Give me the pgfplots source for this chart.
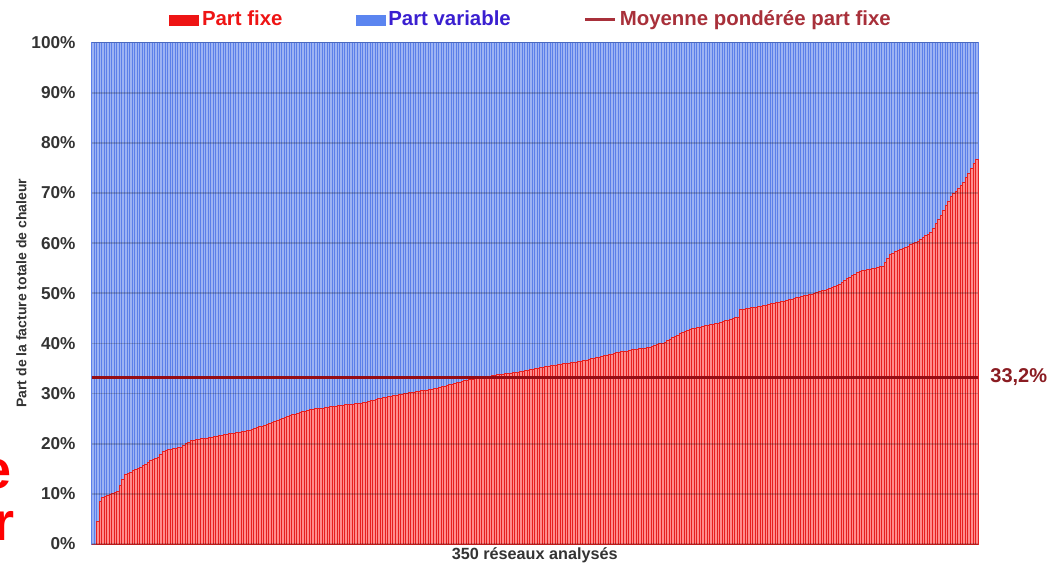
\documentclass[border=0pt]{standalone}
\usepackage{pgfplots}
\pgfplotsset{compat=1.18}
\usepackage{pgfplotstable}
\usepackage{fontspec}
\setmainfont{Liberation Sans}
\definecolor{barblueL}{HTML}{9DB3F3}
\definecolor{barblueD}{HTML}{5B7FE9}
\definecolor{barredL}{HTML}{FF8C8C}
\definecolor{barredD}{HTML}{E62020}
\definecolor{meanred}{HTML}{960C14}
\definecolor{legred}{HTML}{EE1414}
\definecolor{legrect}{HTML}{5B85F0}
\definecolor{legblue}{HTML}{3A1FD0}
\definecolor{legmean}{HTML}{A8303A}
\definecolor{labgray}{HTML}{333333}
\definecolor{lab332}{HTML}{8A1C22}

\pgfplotstableread[row sep=\\]{
f\\
0\\ 0\\ 4.5\\ 8.5\\ 9.3\\
9.5\\ 9.7\\ 9.9\\ 10.1\\ 10.3\\ 10.5\\
11.6\\ 12.9\\ 13.8\\ 14.1\\ 14.3\\
14.6\\ 14.9\\ 15.1\\ 15.3\\
15.6\\ 15.9\\ 16.2\\ 16.6\\ 16.9\\
17.1\\ 17.3\\
17.9\\ 18.5\\
18.6\\ 18.8\\ 18.9\\
19.0\\ 19.1\\ 19.2\\ 19.3\\
19.6\\ 20.0\\ 20.3\\ 20.6\\
20.7\\ 20.8\\ 20.9\\ 21.0\\ 21.0\\ 21.1\\ 21.2\\ 21.3\\ 21.4\\ 21.5\\
21.6\\ 21.7\\ 21.8\\ 21.9\\ 22.0\\ 22.0\\ 22.1\\ 22.2\\ 22.3\\ 22.4\\ 22.5\\ 22.6\\ 22.7\\
22.9\\ 23.0\\ 23.2\\ 23.4\\ 23.5\\ 23.7\\ 23.9\\
24.1\\ 24.3\\ 24.5\\ 24.7\\ 24.8\\ 25.0\\ 25.2\\ 25.4\\ 25.6\\
25.8\\ 25.9\\ 26.1\\ 26.2\\ 26.4\\ 26.5\\ 26.7\\ 26.8\\
26.9\\ 27.0\\ 27.0\\ 27.1\\ 27.1\\ 27.2\\ 27.3\\ 27.4\\ 27.4\\ 27.5\\ 27.6\\
27.7\\ 27.7\\ 27.8\\ 27.8\\ 27.9\\ 27.9\\ 28.0\\ 28.1\\ 28.1\\ 28.2\\
28.3\\ 28.5\\ 28.6\\ 28.7\\ 28.8\\ 29.0\\ 29.1\\ 29.2\\
29.3\\ 29.4\\ 29.5\\ 29.6\\ 29.7\\ 29.8\\ 29.9\\
30.0\\ 30.1\\ 30.2\\ 30.2\\ 30.3\\ 30.4\\ 30.5\\ 30.6\\ 30.7\\ 30.7\\ 30.8\\ 30.9\\ 31.0\\
31.1\\ 31.3\\ 31.4\\ 31.5\\ 31.7\\ 31.8\\ 31.9\\ 32.0\\ 32.2\\ 32.3\\
32.4\\ 32.6\\ 32.7\\ 32.8\\ 32.9\\ 33.1\\ 33.2\\
33.3\\ 33.3\\ 33.4\\ 33.5\\ 33.5\\ 33.6\\ 33.7\\ 33.8\\ 33.8\\ 33.9\\ 34.0\\ 34.0\\ 34.1\\ 34.2\\ 34.2\\ 34.3\\
34.4\\ 34.5\\ 34.6\\ 34.7\\ 34.8\\ 34.9\\ 35.0\\ 35.1\\ 35.2\\ 35.3\\ 35.4\\ 35.5\\
35.6\\ 35.7\\ 35.7\\ 35.8\\ 35.9\\ 36.0\\ 36.0\\ 36.1\\ 36.2\\ 36.3\\ 36.3\\ 36.4\\ 36.5\\
36.6\\ 36.7\\ 36.8\\ 37.0\\ 37.1\\ 37.2\\ 37.3\\
37.4\\ 37.6\\ 37.7\\ 37.8\\ 37.9\\ 38.1\\ 38.2\\
38.3\\ 38.4\\ 38.4\\ 38.5\\ 38.6\\ 38.7\\ 38.7\\ 38.8\\ 38.9\\ 39.0\\ 39.0\\ 39.1\\ 39.2\\
39.4\\ 39.5\\ 39.7\\ 39.9\\ 40.0\\ 40.2\\
40.5\\ 40.8\\ 41.1\\ 41.4\\
41.6\\ 41.9\\ 42.1\\ 42.3\\ 42.6\\ 42.8\\
42.9\\ 43.0\\ 43.1\\ 43.2\\ 43.3\\ 43.5\\ 43.6\\ 43.7\\ 43.8\\ 43.9\\ 44.0\\
44.2\\ 44.3\\ 44.5\\ 44.6\\ 44.8\\ 44.9\\ 45.1\\ 45.2\\
46.7\\
46.8\\ 46.9\\ 47.0\\ 47.1\\ 47.1\\ 47.2\\ 47.3\\ 47.4\\ 47.5\\
47.6\\ 47.7\\ 47.9\\ 48.0\\ 48.1\\ 48.2\\ 48.3\\ 48.4\\ 48.6\\ 48.7\\ 48.8\\
48.9\\ 49.1\\ 49.2\\ 49.3\\ 49.5\\ 49.6\\ 49.7\\ 49.8\\ 50.0\\ 50.1\\
50.3\\ 50.5\\ 50.6\\ 50.8\\ 51.0\\ 51.2\\ 51.3\\ 51.5\\
51.8\\ 52.2\\ 52.5\\ 52.9\\ 53.2\\
53.5\\ 53.8\\ 54.1\\ 54.4\\
54.5\\ 54.6\\ 54.7\\ 54.8\\ 54.9\\ 55.0\\ 55.1\\ 55.3\\ 55.4\\
56.2\\ 57.0\\ 57.8\\
58.0\\ 58.3\\ 58.5\\ 58.7\\ 59.0\\ 59.2\\ 59.4\\ 59.7\\ 59.9\\ 60.2\\ 60.4\\
60.8\\ 61.1\\ 61.5\\ 61.8\\ 62.2\\
63.0\\ 63.9\\ 64.7\\
65.6\\ 66.5\\ 67.5\\ 68.4\\ 69.3\\
69.9\\ 70.4\\ 71.0\\ 71.5\\ 72.1\\
73.0\\ 73.9\\ 74.9\\ 75.8\\ 76.7\\
}\fixtable
\pgfplotstablecreatecol[expr={\pgfplotstablerow}]{i}{\fixtable}
\pgfplotstablecreatecol[expr={100}]{t}{\fixtable}

\begin{document}
\begin{tikzpicture}
\useasboundingbox (0,0) rectangle (525.5pt,281.5pt);
\begin{axis}[
  at={(45.75pt,9.5pt)}, anchor=south west,
  scale only axis, width=443.25pt, height=250.75pt,
  xmin=-0.5, xmax=349.5, ymin=0, ymax=100,
  enlargelimits=false,
  clip=false,
  axis line style={draw=none},
  major tick length=0pt,
  xtick=\empty,
  ytick={0,10,...,100},
  ymajorgrids,
  grid style={black, opacity=0.18, line width=0.9pt},
  yticklabel={\pgfmathprintnumber{\tick}\%},
  yticklabel style={font=\fontsize{8.6}{10}\selectfont\bfseries, text=labgray, xshift=-4.5pt, /pgf/number format/assume math mode=true},
  ybar, bar width=1,
  axis on top,
  xlabel={350 réseaux analysés},
  xlabel style={at={(axis description cs:0.5,0)}, anchor=north, inner sep=0pt, yshift=-1.5pt, font=\fontsize{8.1}{9}\selectfont\bfseries, text=labgray},
  ylabel={Part de la facture totale de chaleur},
  ylabel style={at={(axis description cs:-0.079,0.5)}, anchor=center, font=\fontsize{7}{8}\selectfont\bfseries, text=labgray},
  legend columns=3,
  legend style={at={(axis description cs:0.4963,1)}, anchor=center, yshift=11.25pt,
    draw=none, fill=none, font=\fontsize{10.2}{12}\selectfont\bfseries,
    nodes={inner sep=1.5pt},
    /tikz/every even column/.append style={column sep=35pt}},
  legend cell align=left,
]
\addplot[fill=barblueL, draw=barblueD, line width=0.42pt, bar shift=0pt, forget plot]
  table[x=i, y=t] {\fixtable};
\addplot[fill=barredL, draw=barredD, line width=0.42pt, bar shift=0pt, forget plot]
  table[x=i, y=f] {\fixtable};
\addplot[sharp plot, mark=none, meanred, line width=1.6pt, forget plot]
  coordinates {(-0.5,33.2) (349.5,33.2)};
\node[anchor=west, inner sep=0pt, xshift=6pt, text=lab332, font=\fontsize{10}{12}\selectfont\bfseries] at (axis cs:349.5,33.2) {33,2\%};

\addlegendimage{legend image code/.code={\fill[legred] (0pt,-2.5pt) rectangle (14.5pt,2.5pt);}}
\addlegendentry{\textcolor{legred}{Part fixe}}
\addlegendimage{legend image code/.code={\fill[legrect] (0pt,-2.5pt) rectangle (14.5pt,2.5pt);}}
\addlegendentry{\textcolor{legblue}{Part variable}}
\addlegendimage{legend image code/.code={\draw[legmean, line width=1.5pt] (0pt,0pt) -- (15pt,0pt);}}
\addlegendentry{\textcolor{legmean}{Moyenne pondérée part fixe}}
\end{axis}
\node[anchor=base west, inner sep=0pt, text=red, font=\fontsize{27}{27}\selectfont\bfseries] at (-9.5pt,37.5pt) {e};
\node[anchor=base west, inner sep=0pt, text=red, font=\fontsize{27}{27}\selectfont\bfseries] at (-3.5pt,11.5pt) {r};
\end{tikzpicture}
\end{document}
